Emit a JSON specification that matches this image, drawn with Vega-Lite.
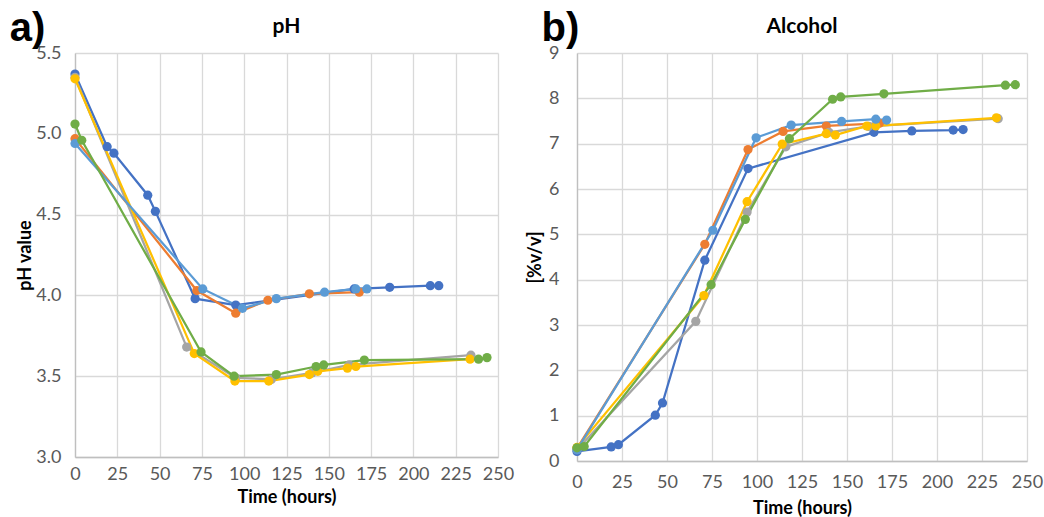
{
 "$schema": "https://vega.github.io/schema/vega-lite/v6.json",
 "background": "white",
 "padding": {"left": 9, "top": 9, "right": 5, "bottom": 3},
 "spacing": 12,
 "config": {
  "font": "Lato",
  "view": {"stroke": null},
  "axis": {"grid": true, "gridColor": "#D9D9D9", "gridWidth": 1.3, "ticks": false, "domainColor": "#BFBFBF", "domainWidth": 1.3, "labelColor": "#595959", "labelFontSize": 18, "labelOverlap": false, "labelFlush": false, "titleFontSize": 18, "titleFontWeight": "bold", "titleColor": "#000000"},
  "title": {"fontSize": 21, "fontWeight": "bold", "color": "#000000", "offset": 7}
 },
 "datasets": {
  "ph": [
   {"series": "S1", "time": 0, "value": 5.37}, {"series": "S1", "time": 19, "value": 4.92}, {"series": "S1", "time": 23, "value": 4.88}, {"series": "S1", "time": 43, "value": 4.62}, {"series": "S1", "time": 47.5, "value": 4.52}, {"series": "S1", "time": 71, "value": 3.98}, {"series": "S1", "time": 95, "value": 3.94}, {"series": "S1", "time": 165, "value": 4.04}, {"series": "S1", "time": 186, "value": 4.05}, {"series": "S1", "time": 210, "value": 4.06}, {"series": "S1", "time": 215, "value": 4.06},
   {"series": "S2", "time": 0, "value": 4.97}, {"series": "S2", "time": 72, "value": 4.03}, {"series": "S2", "time": 95, "value": 3.89}, {"series": "S2", "time": 114, "value": 3.97}, {"series": "S2", "time": 138.5, "value": 4.01}, {"series": "S2", "time": 168, "value": 4.02},
   {"series": "S3", "time": 0, "value": 5.35}, {"series": "S3", "time": 66, "value": 3.68}, {"series": "S3", "time": 95, "value": 3.49}, {"series": "S3", "time": 116, "value": 3.48}, {"series": "S3", "time": 140, "value": 3.52}, {"series": "S3", "time": 162, "value": 3.57}, {"series": "S3", "time": 234, "value": 3.63},
   {"series": "S4", "time": 0, "value": 5.34}, {"series": "S4", "time": 70.5, "value": 3.64}, {"series": "S4", "time": 94.5, "value": 3.47}, {"series": "S4", "time": 114.5, "value": 3.47}, {"series": "S4", "time": 138.5, "value": 3.51}, {"series": "S4", "time": 143.5, "value": 3.53}, {"series": "S4", "time": 161, "value": 3.55}, {"series": "S4", "time": 166, "value": 3.56}, {"series": "S4", "time": 233.5, "value": 3.605},
   {"series": "S5", "time": 0, "value": 4.94}, {"series": "S5", "time": 75.5, "value": 4.04}, {"series": "S5", "time": 99, "value": 3.92}, {"series": "S5", "time": 119, "value": 3.98}, {"series": "S5", "time": 147.5, "value": 4.02}, {"series": "S5", "time": 166, "value": 4.04}, {"series": "S5", "time": 172.5, "value": 4.04},
   {"series": "S6", "time": 0, "value": 5.06}, {"series": "S6", "time": 4, "value": 4.96}, {"series": "S6", "time": 74.5, "value": 3.65}, {"series": "S6", "time": 94, "value": 3.50}, {"series": "S6", "time": 119, "value": 3.51}, {"series": "S6", "time": 142.5, "value": 3.56}, {"series": "S6", "time": 147, "value": 3.57}, {"series": "S6", "time": 171, "value": 3.60}, {"series": "S6", "time": 238.5, "value": 3.605}, {"series": "S6", "time": 243.5, "value": 3.615}
  ],
  "alc": [
   {"series": "S1", "time": 0, "value": 0.21}, {"series": "S1", "time": 19, "value": 0.31}, {"series": "S1", "time": 23, "value": 0.36}, {"series": "S1", "time": 43.5, "value": 1.01}, {"series": "S1", "time": 47.5, "value": 1.28}, {"series": "S1", "time": 71, "value": 4.43}, {"series": "S1", "time": 95, "value": 6.45}, {"series": "S1", "time": 165, "value": 7.25}, {"series": "S1", "time": 186, "value": 7.28}, {"series": "S1", "time": 209, "value": 7.30}, {"series": "S1", "time": 214.5, "value": 7.31},
   {"series": "S2", "time": 0, "value": 0.28}, {"series": "S2", "time": 71, "value": 4.78}, {"series": "S2", "time": 95, "value": 6.87}, {"series": "S2", "time": 114.5, "value": 7.27}, {"series": "S2", "time": 138.5, "value": 7.39}, {"series": "S2", "time": 168, "value": 7.45},
   {"series": "S3", "time": 0, "value": 0.25}, {"series": "S3", "time": 66, "value": 3.08}, {"series": "S3", "time": 94.5, "value": 5.49}, {"series": "S3", "time": 116, "value": 6.93}, {"series": "S3", "time": 140, "value": 7.25}, {"series": "S3", "time": 162, "value": 7.38}, {"series": "S3", "time": 234, "value": 7.55},
   {"series": "S4", "time": 0, "value": 0.30}, {"series": "S4", "time": 70.5, "value": 3.65}, {"series": "S4", "time": 94.5, "value": 5.72}, {"series": "S4", "time": 114, "value": 6.99}, {"series": "S4", "time": 138.5, "value": 7.22}, {"series": "S4", "time": 143.5, "value": 7.19}, {"series": "S4", "time": 161, "value": 7.39}, {"series": "S4", "time": 166, "value": 7.39}, {"series": "S4", "time": 233, "value": 7.57},
   {"series": "S5", "time": 0, "value": 0.25}, {"series": "S5", "time": 75.5, "value": 5.09}, {"series": "S5", "time": 99.5, "value": 7.13}, {"series": "S5", "time": 119, "value": 7.41}, {"series": "S5", "time": 147, "value": 7.49}, {"series": "S5", "time": 166, "value": 7.54}, {"series": "S5", "time": 172, "value": 7.52},
   {"series": "S6", "time": 0, "value": 0.29}, {"series": "S6", "time": 4, "value": 0.32}, {"series": "S6", "time": 74.5, "value": 3.89}, {"series": "S6", "time": 93.5, "value": 5.33}, {"series": "S6", "time": 118, "value": 7.11}, {"series": "S6", "time": 142, "value": 7.98}, {"series": "S6", "time": 146.5, "value": 8.03}, {"series": "S6", "time": 170.5, "value": 8.10}, {"series": "S6", "time": 238, "value": 8.29}, {"series": "S6", "time": 243.5, "value": 8.30}
  ]
 },
 "hconcat": [
  {
   "title": {"text": "a)", "anchor": "start", "frame": "bounds", "font": "Liberation Sans", "fontSize": 40, "fontWeight": "bold", "dy": 33, "dx": -7, "offset": 0},
   "vconcat": [
    {
     "title": "pH",
     "width": 423,
     "height": 404,
     "data": {"name": "ph"},
     "encoding": {
      "x": {"field": "time", "type": "quantitative", "title": "Time (hours)", "scale": {"domain": [0, 250], "nice": false}, "axis": {"values": [0, 25, 50, 75, 100, 125, 150, 175, 200, 225, 250], "labelPadding": 8, "titlePadding": 5}},
      "y": {"field": "value", "type": "quantitative", "title": "pH value", "scale": {"domain": [3, 5.5], "nice": false, "zero": false}, "axis": {"values": [3, 3.5, 4, 4.5, 5, 5.5], "format": ".1f", "labelPadding": 14, "titlePadding": 1}},
      "color": {"field": "series", "type": "nominal", "legend": null, "scale": {"domain": ["S1", "S2", "S3", "S4", "S5", "S6"], "range": ["#4472C4", "#ED7D31", "#A5A5A5", "#FFC000", "#5B9BD5", "#70AD47"]}}
     },
     "layer": [
      {"mark": {"type": "line", "strokeWidth": 2.25}},
      {"mark": {"type": "point", "filled": true, "opacity": 1, "size": 85}}
     ]
    }
   ]
  },
  {
   "title": {"text": "b)", "anchor": "start", "frame": "bounds", "font": "Liberation Sans", "fontSize": 40, "fontWeight": "bold", "dy": 33, "dx": 15, "offset": 0},
   "vconcat": [
    {
     "title": "Alcohol",
     "width": 450,
     "height": 408,
     "data": {"name": "alc"},
     "encoding": {
      "x": {"field": "time", "type": "quantitative", "title": "Time (hours)", "scale": {"domain": [0, 250], "nice": false}, "axis": {"values": [0, 25, 50, 75, 100, 125, 150, 175, 200, 225, 250], "labelPadding": 12, "titlePadding": 8}},
      "y": {"field": "value", "type": "quantitative", "title": "[%v/v]", "scale": {"domain": [0, 9], "nice": false}, "axis": {"values": [0, 1, 2, 3, 4, 5, 6, 7, 8, 9], "labelPadding": 18, "titlePadding": 4}},
      "color": {"field": "series", "type": "nominal", "legend": null, "scale": {"domain": ["S1", "S2", "S3", "S4", "S5", "S6"], "range": ["#4472C4", "#ED7D31", "#A5A5A5", "#FFC000", "#5B9BD5", "#70AD47"]}}
     },
     "layer": [
      {"mark": {"type": "line", "strokeWidth": 2.25}},
      {"mark": {"type": "point", "filled": true, "opacity": 1, "size": 85}}
     ]
    }
   ]
  }
 ]
}
